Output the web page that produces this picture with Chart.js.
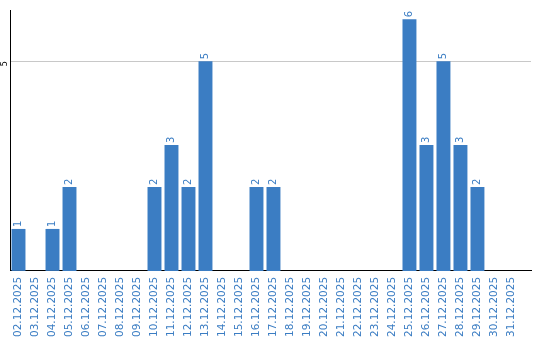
<!DOCTYPE html>
<html>
<head>
<meta charset="utf-8">
<script src="https://cdn.jsdelivr.net/npm/chart.js@4"></script>
<style>
    html, body { margin: 0; padding: 0; background: #fff; }
    #wrap { width: 540px; height: 340px; }
</style>
</head>
<body>
<div id="wrap"><canvas id="dailyChart"></canvas></div>
<script>
// Days of December 2025
const days = ['02.12.2025', '03.12.2025', '04.12.2025', '05.12.2025', '06.12.2025', '07.12.2025',
    '08.12.2025', '09.12.2025', '10.12.2025', '11.12.2025', '12.12.2025', '13.12.2025',
    '14.12.2025', '15.12.2025', '16.12.2025', '17.12.2025', '18.12.2025', '19.12.2025',
    '20.12.2025', '21.12.2025', '22.12.2025', '23.12.2025', '24.12.2025', '25.12.2025',
    '26.12.2025', '27.12.2025', '28.12.2025', '29.12.2025', '30.12.2025', '31.12.2025'];
const counts = [1, 0, 1, 2, 0, 0, 0, 0, 2, 3, 2, 5, 0, 0, 2, 2, 0, 0, 0, 0, 0, 0, 0, 6, 3, 5, 3, 2, 0, 0];
const yTicks = [5];

const blue = '#3b7dc3';

// Small rotated value labels above each bar
const valueLabels = {
    id: 'valueLabels',
    afterDatasetsDraw(chart) {
        const ctx = chart.ctx;
        const meta = chart.getDatasetMeta(0);
        ctx.save();
        ctx.fillStyle = blue;
        ctx.font = '10px "DejaVu Sans"';
        ctx.textAlign = 'left';
        ctx.textBaseline = 'middle';
        meta.data.forEach((bar, i) => {
            const v = counts[i];
            if (!v) return;
            ctx.save();
            ctx.translate(bar.x, bar.y - 2);
            ctx.rotate(-Math.PI / 2);
            ctx.fillText(String(v), 0, 0);
            ctx.restore();
        });
        ctx.restore();
    }
};

window.addEventListener('load', () => {
    const ctx = document.getElementById('dailyChart').getContext('2d');
    new Chart(ctx, {
        type: 'bar',
        data: {
            labels: days,
            datasets: [{
                data: counts,
                backgroundColor: blue,
                borderWidth: 0,
                barPercentage: 0.82,
                categoryPercentage: 1
            }]
        },
        options: {
            responsive: true,
            maintainAspectRatio: false,
            animation: false,
            layout: { padding: { top: 10, right: 9, left: 0, bottom: -3 } },
            plugins: {
                legend: { display: false },
                tooltip: { enabled: false }
            },
            scales: {
                x: {
                    // leave some empty room after the last day, like the original
                    afterBuildTicks(scale) {
                        scale._valueRange = days.length + 0.65;
                    },
                    grid: { display: false, drawTicks: false },
                    border: { color: '#000', width: 1 },
                    ticks: {
                        color: blue,
                        font: { family: 'DejaVu Sans', size: 10.5 },
                        minRotation: 90,
                        maxRotation: 90,
                        autoSkip: false,
                        padding: 6
                    }
                },
                y: {
                    min: 0,
                    max: 6.22,
                    afterBuildTicks(scale) {
                        scale.ticks = yTicks.map(v => ({ value: v }));
                    },
                    afterFit(scale) {
                        scale.width = 10;
                    },
                    grid: { color: '#c8c8c8', drawTicks: false },
                    border: { color: '#000', width: 1 },
                    ticks: {
                        color: '#000',
                        font: { family: 'DejaVu Sans', size: 8 },
                        minRotation: 90,
                        maxRotation: 90,
                        padding: 5
                    }
                }
            }
        },
        plugins: [valueLabels]
    });
});
</script>
</body>
</html>
